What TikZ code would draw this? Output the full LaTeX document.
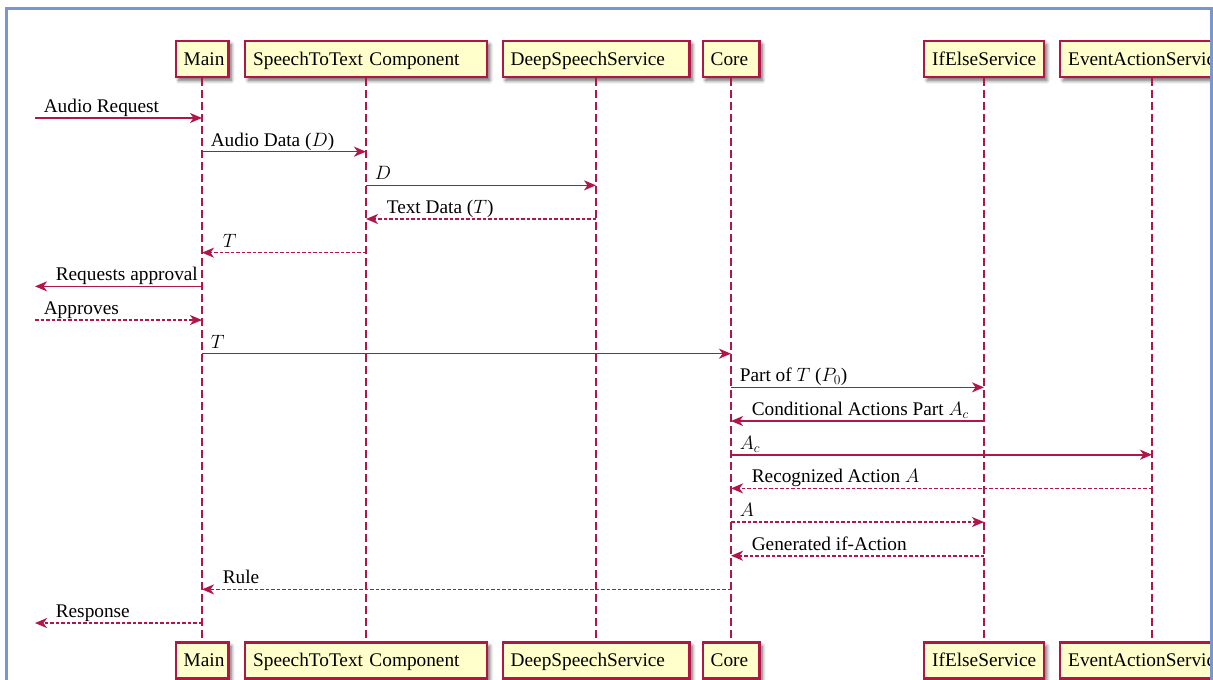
\documentclass[tikz,border=0pt]{standalone}
\usepackage{fix-cm}
\usepackage[no-math]{fontspec}
\setmainfont{Liberation Serif}
\usetikzlibrary{arrows.meta,shadows.blur}

\definecolor{msgred}{RGB}{176,22,72}
\definecolor{boxfill}{RGB}{255,255,204}
\definecolor{frameblue}{RGB}{120,150,210}

\begin{document}
\begin{tikzpicture}[x=1pt,y=-1pt,
  font=\fontsize{19.3}{22}\selectfont,
  actor/.style={draw=msgred, line width=2.4pt, fill=boxfill,
    minimum height=36pt, inner xsep=8pt, inner ysep=0pt,
    text width=#1, align=left, text height=15pt, text depth=3pt,
    blur shadow={shadow xshift=3pt, shadow yshift=-3.5pt,
      shadow blur radius=3.5pt, shadow blur steps=8, shadow opacity=60}},
  lifeline/.style={draw=msgred, line width=1.5pt, dash pattern=on 7.5pt off 4.5pt},
  msg/.style={draw=msgred, line width=1.6pt,
    -{Stealth[length=12pt,width=10pt,inset=3.5pt]}},
  reply/.style={msg, dash pattern=on 3.5pt off 2pt},
  fwd/.style={anchor=base west, inner sep=0pt, pos=0, xshift=8pt, yshift=5.5pt},
  back/.style={anchor=base west, inner sep=0pt, pos=1, xshift=20pt, yshift=5.5pt},
]
\useasboundingbox (0,0) rectangle (1213,680);

\begin{scope}
\clip (0,0) rectangle (1210,680);

% participants, top row
\node[actor=36.6]  (mainT) at (202,59)   {Main};
\node[actor=225.6] (sttT)  at (366,59)   {SpeechToText Component};
\node[actor=170.6] (dsT)   at (596,59)   {DeepSpeechService};
\node[actor=40.6]  (coreT) at (731,59)   {Core};
\node[actor=103.6] (ifT)   at (984,59)   {IfElseService};
\node[actor=167.6] (evT)   at (1152,59)  {EventActionService};

% participants, bottom row
\node[actor=36.6]  (mainB) at (202,660.5)   {Main};
\node[actor=225.6] (sttB)  at (366,660.5)   {SpeechToText Component};
\node[actor=170.6] (dsB)   at (596,660.5)   {DeepSpeechService};
\node[actor=40.6]  (coreB) at (731,660.5)   {Core};
\node[actor=103.6] (ifB)   at (984,660.5)   {IfElseService};
\node[actor=167.6] (evB)   at (1152,660.5)  {EventActionService};

% lifelines
\foreach \p in {main,stt,ds,core,if,ev}
  \draw[lifeline] (\p T.south) -- (\p B.north);

% message rows and the outside caller
\coordinate (ext) at (35,0);
\foreach \i in {1,...,16}
  \coordinate (r\i) at (0,{118+(\i-1)*33.67});

\draw[msg]   (ext |- r1)    -- node[fwd]  {Audio Request} (mainT |- r1);
\draw[msg]   (mainT |- r2)  -- node[fwd]  {Audio Data ($D$)} (sttT |- r2);
\draw[msg]   (sttT |- r3)   -- node[fwd]  {$D$} (dsT |- r3);
\draw[reply] (dsT |- r4)    -- node[back] {Text Data ($T$)} (sttT |- r4);
\draw[reply] (sttT |- r5)   -- node[back] {$T$} (mainT |- r5);
\draw[msg]   (mainT |- r6)  -- node[back] {Requests approval} (ext |- r6);
\draw[reply] (ext |- r7)    -- node[fwd]  {Approves} (mainT |- r7);
\draw[msg]   (mainT |- r8)  -- node[fwd]  {$T$} (coreT |- r8);
\draw[msg]   (coreT |- r9)  -- node[fwd]  {Part of $T$ ($P_0$)} (ifT |- r9);
\draw[msg]   (ifT |- r10)   -- node[back] {Conditional Actions Part $A_c$} (coreT |- r10);
\draw[msg]   (coreT |- r11) -- node[fwd]  {$A_c$} (evT |- r11);
\draw[reply] (evT |- r12)   -- node[back] {Recognized Action $A$} (coreT |- r12);
\draw[reply] (coreT |- r13) -- node[fwd]  {$A$} (ifT |- r13);
\draw[reply] (ifT |- r14)   -- node[back] {Generated if-Action} (coreT |- r14);
\draw[reply] (coreT |- r15) -- node[back] {Rule} (mainT |- r15);
\draw[reply] (mainT |- r16) -- node[back] {Response} (ext |- r16);
\end{scope}

% window frame
\draw[frameblue, line width=3pt] (6.5,8.5) rectangle (1211.5,720);
\end{tikzpicture}
\end{document}
